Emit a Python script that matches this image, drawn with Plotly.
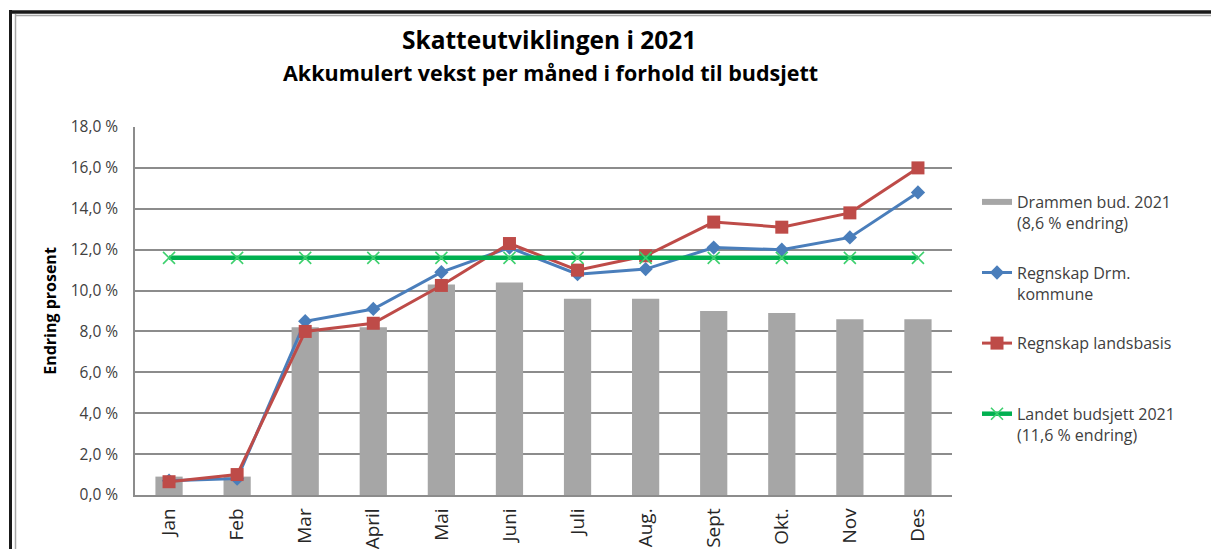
import plotly.graph_objects as go

# ---------------- data ----------------
months = ["Jan", "Feb", "Mar", "April", "Mai", "Juni", "Juli", "Aug.", "Sept", "Okt.", "Nov", "Des"]
drammen_budsjett = [0.9, 0.9, 8.2, 8.2, 10.3, 10.4, 9.6, 9.6, 9.0, 8.9, 8.6, 8.6]
regnskap_drm = [0.7, 0.8, 8.5, 9.1, 10.9, 12.1, 10.8, 11.05, 12.1, 12.0, 12.6, 14.8]
regnskap_landsbasis = [0.65, 1.0, 8.0, 8.4, 10.25, 12.3, 11.0, 11.7, 13.35, 13.1, 13.8, 16.0]
landet_budsjett = [11.6] * 12
y_tickvals = [0, 2, 4, 6, 8, 10, 12, 14, 16, 18]
y_ticktext = ["0,0 %", "2,0 %", "4,0 %", "6,0 %", "8,0 %", "10,0 %", "12,0 %", "14,0 %", "16,0 %", "18,0 %"]

W, H = 1211, 549
L, R, T, B = 135, 952, 127, 495   # plot area in pixels


def px(x):
    return (x - L) / (R - L)


def py(y):
    return (B - y) / (B - T)


FONT = "Open Sans"
TXT = "#404040"
GREY_BAR = "#A6A6A6"

fig = go.Figure()
fig.add_trace(go.Bar(
    x=months, y=drammen_budsjett, name="Drammen bud. 2021<br>(8,6 % endring)",
    marker=dict(color=GREY_BAR, line=dict(width=0)), width=0.4, legendgroup="a", showlegend=False))
# legend entry for the bars (wide swatch like the original), carries no data
fig.add_trace(go.Scatter(
    x=[None], y=[None], name="Drammen bud. 2021<br>(8,6 % endring)", mode="lines",
    line=dict(color=GREY_BAR, width=6), legendgroup="a", hoverinfo="skip"))
fig.add_trace(go.Scatter(
    x=months, y=regnskap_drm, name="Regnskap Drm.<br>kommune", mode="lines+markers",
    line=dict(color="#4A7EBB", width=3), marker=dict(symbol="diamond", size=11, color="#4A7EBB"),
    legendgroup="b"))
fig.add_trace(go.Scatter(
    x=months, y=regnskap_landsbasis, name="Regnskap landsbasis<br> ", mode="lines+markers",
    line=dict(color="#BE4B48", width=3), marker=dict(symbol="square", size=13, color="#BE4B48"),
    legendgroup="c"))
fig.add_trace(go.Scatter(
    x=months, y=landet_budsjett, name="Landet budsjett 2021<br>(11,6 % endring)", mode="lines+markers",
    line=dict(color="#00B050", width=4.5),
    marker=dict(symbol="x-thin-open", size=12, color="#3DD06E", line=dict(width=1.6, color="#3DD06E")),
    legendgroup="d"))

annotations = [
    dict(text="<b>Skatteutviklingen i 2021</b>", x=px(549), y=py(39), xref="paper", yref="paper",
         showarrow=False, xanchor="center", yanchor="middle", font=dict(family=FONT, size=24.5, color="black")),
    dict(text="<b>Akkumulert vekst per måned i forhold til budsjett</b>", x=px(550), y=py(73),
         xref="paper", yref="paper", showarrow=False, xanchor="center", yanchor="middle",
         font=dict(family=FONT, size=21.5, color="black")),
]

shapes = [
    dict(type="line", xref="paper", yref="paper", x0=px(9), x1=px(W + 5), y0=py(12), y1=py(12),
         line=dict(color="#1a1a1a", width=3.5)),
    dict(type="line", xref="paper", yref="paper", x0=px(15), x1=px(W + 5), y0=py(15.5), y1=py(15.5),
         line=dict(color="#a8a8a8", width=1.5)),
    dict(type="line", xref="paper", yref="paper", x0=px(10.5), x1=px(10.5), y0=py(10), y1=py(H + 5),
         line=dict(color="#1a1a1a", width=3)),
    dict(type="line", xref="paper", yref="paper", x0=px(15.5), x1=px(15.5), y0=py(14), y1=py(H + 5),
         line=dict(color="#a8a8a8", width=1.5)),
]

fig.update_layout(
    width=W, height=H,
    margin=dict(l=L, r=W - R, t=T, b=H - B, autoexpand=False),
    paper_bgcolor="white", plot_bgcolor="white",
    font=dict(family=FONT, color=TXT),
    showlegend=True,
    legend=dict(x=px(977), y=py(185), xanchor="left", yanchor="top", valign="top",
                font=dict(family=FONT, size=16, color=TXT), tracegroupgap=26,
                bgcolor="rgba(0,0,0,0)", itemwidth=30),
    annotations=annotations,
    shapes=shapes,
    xaxis=dict(type="category", range=[-0.5, 11.5], showgrid=False, showline=True,
               linecolor="#8c8c8c", linewidth=1.5, tickangle=-90, ticks="", ticklabelstandoff=4,
               tickfont=dict(family=FONT, size=19, color="#262626"), automargin=False, fixedrange=True),
    yaxis=dict(range=[0, 18], tickvals=y_tickvals, ticktext=y_ticktext, showgrid=True,
               gridcolor="#8c8c8c", gridwidth=1.6, showline=True, linecolor="#8c8c8c", linewidth=1.5,
               zeroline=False, ticks="", ticklabelstandoff=12,
               tickfont=dict(family=FONT, size=15.5, color=TXT), automargin=False,
               title=dict(text="<b>Endring prosent</b>", font=dict(family=FONT, size=16, color="black"),
                          standoff=10),
               fixedrange=True),
)

fig.write_html("out.html", config={"displayModeBar": False},
               post_script="document.body.style.margin='0';document.body.style.overflow='hidden';")
